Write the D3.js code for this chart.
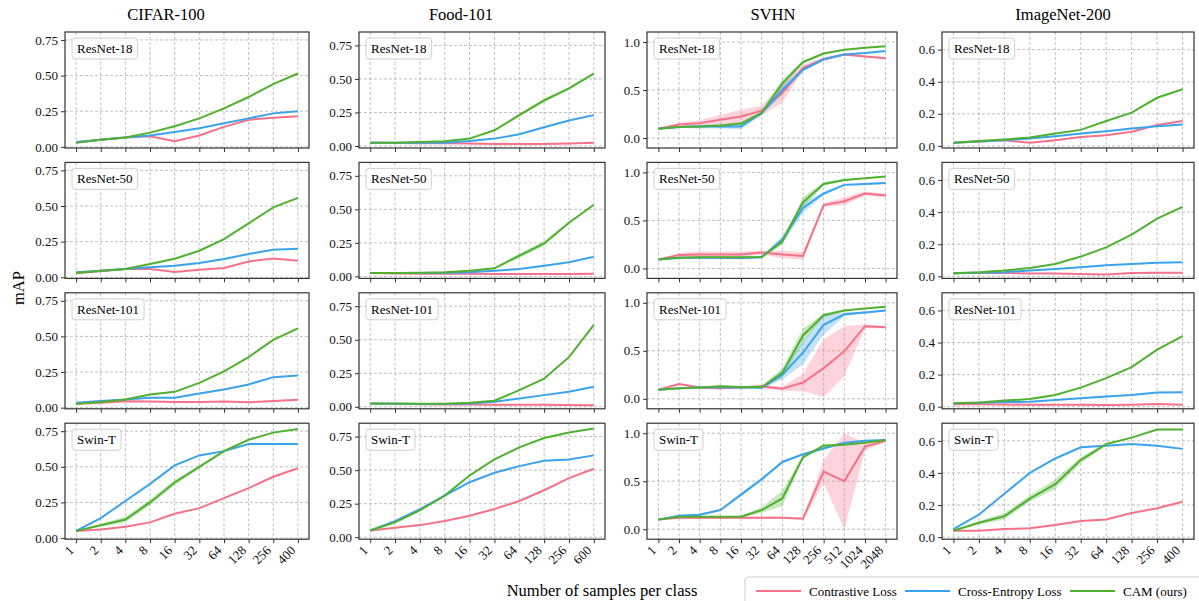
<!DOCTYPE html>
<html>
<head>
<meta charset="utf-8">
<script src="https://cdn.jsdelivr.net/npm/d3@7"></script>
<style>
  body { margin: 0; background: #fff; }
  svg { font-family: "Liberation Serif", "Times New Roman", serif; }
</style>
</head>
<body>
<svg id="chart" width="1199" height="601"></svg>
<script>
var methods = ["Contrastive Loss", "Cross-Entropy Loss", "CAM (ours)"]
var colors = ["#f77189", "#3ba3ec", "#50b131"]
var datasets = ["CIFAR-100", "Food-101", "SVHN", "ImageNet-200"]
var models = ["ResNet-18", "ResNet-50", "ResNet-101", "Swin-T"]

var cifarTicks = ["1", "2", "4", "8", "16", "32", "64", "128", "256", "400"]
var foodTicks = ["1", "2", "4", "8", "16", "32", "64", "128", "256", "600"]
var svhnTicks = ["1", "2", "4", "8", "16", "32", "64", "128", "256", "512", "1024", "2048"]
var imnetTicks = ["1", "2", "4", "8", "16", "32", "64", "128", "256", "400"]

// CIFAR-100
var cifar_r18_con = [0.03, 0.05, 0.065, 0.075, 0.04, 0.08, 0.14, 0.19, 0.205, 0.215]
var cifar_r18_ce = [0.035, 0.05, 0.065, 0.08, 0.105, 0.13, 0.165, 0.2, 0.235, 0.25]
var cifar_r18_cam = [0.028, 0.05, 0.065, 0.1, 0.145, 0.2, 0.27, 0.35, 0.44, 0.515]
var cifar_r50_con = [0.03, 0.042, 0.058, 0.058, 0.037, 0.053, 0.065, 0.111, 0.132, 0.116]
var cifar_r50_ce = [0.035, 0.046, 0.058, 0.07, 0.081, 0.1, 0.128, 0.163, 0.193, 0.2]
var cifar_r50_cam = [0.03, 0.046, 0.058, 0.093, 0.13, 0.186, 0.267, 0.378, 0.49, 0.557]
var cifar_r101_con = [0.028, 0.035, 0.045, 0.044, 0.04, 0.04, 0.043, 0.038, 0.046, 0.055]
var cifar_r101_ce = [0.035, 0.046, 0.058, 0.07, 0.07, 0.1, 0.128, 0.163, 0.214, 0.225]
var cifar_r101_cam = [0.028, 0.04, 0.058, 0.093, 0.111, 0.174, 0.255, 0.355, 0.476, 0.557]
var cifar_swin_con = [0.05, 0.06, 0.08, 0.11, 0.17, 0.21, 0.28, 0.35, 0.43, 0.49]
var cifar_swin_ce = [0.05, 0.14, 0.26, 0.38, 0.51, 0.58, 0.61, 0.66, 0.66, 0.66]
var cifar_swin_cam = [0.05, 0.09, 0.13, 0.25, 0.39, 0.5, 0.61, 0.69, 0.74, 0.765]

// Food-101
var food_r18_con = [0.025, 0.022, 0.02, 0.02, 0.018, 0.015, 0.015, 0.015, 0.018, 0.025]
var food_r18_ce = [0.025, 0.025, 0.025, 0.025, 0.037, 0.055, 0.087, 0.14, 0.19, 0.23]
var food_r18_cam = [0.025, 0.025, 0.03, 0.035, 0.055, 0.117, 0.23, 0.34, 0.43, 0.54]
var food_r50_con = [0.025, 0.022, 0.02, 0.02, 0.02, 0.018, 0.018, 0.018, 0.018, 0.02]
var food_r50_ce = [0.025, 0.025, 0.025, 0.025, 0.03, 0.042, 0.055, 0.08, 0.105, 0.147]
var food_r50_cam = [0.025, 0.025, 0.027, 0.03, 0.042, 0.06, 0.154, 0.246, 0.4, 0.534]
var food_r101_con = [0.022, 0.02, 0.018, 0.018, 0.017, 0.016, 0.015, 0.015, 0.013, 0.012]
var food_r101_ce = [0.025, 0.022, 0.02, 0.02, 0.025, 0.037, 0.062, 0.087, 0.112, 0.149]
var food_r101_cam = [0.025, 0.025, 0.022, 0.022, 0.03, 0.045, 0.124, 0.21, 0.37, 0.61]
var food_swin_con = [0.05, 0.07, 0.09, 0.12, 0.16, 0.21, 0.27, 0.35, 0.44, 0.51]
var food_swin_ce = [0.05, 0.12, 0.21, 0.31, 0.41, 0.48, 0.53, 0.57, 0.58, 0.61]
var food_swin_cam = [0.05, 0.11, 0.2, 0.31, 0.46, 0.58, 0.67, 0.74, 0.78, 0.81]

// SVHN
var svhn_r18_con = [0.097, 0.14, 0.155, 0.19, 0.225, 0.285, 0.47, 0.73, 0.82, 0.87, 0.85, 0.83]
var svhn_r18_ce = [0.097, 0.115, 0.12, 0.12, 0.12, 0.26, 0.5, 0.71, 0.82, 0.87, 0.885, 0.905]
var svhn_r18_cam = [0.097, 0.115, 0.12, 0.13, 0.15, 0.26, 0.57, 0.79, 0.88, 0.92, 0.94, 0.955]
var svhn_r50_con = [0.094, 0.14, 0.145, 0.145, 0.145, 0.165, 0.145, 0.13, 0.66, 0.7, 0.78, 0.76]
var svhn_r50_ce = [0.094, 0.11, 0.112, 0.11, 0.108, 0.115, 0.3, 0.63, 0.78, 0.87, 0.88, 0.89]
var svhn_r50_cam = [0.094, 0.11, 0.115, 0.115, 0.115, 0.12, 0.28, 0.69, 0.88, 0.92, 0.94, 0.958]
var svhn_r101_con = [0.094, 0.153, 0.118, 0.11, 0.118, 0.13, 0.105, 0.17, 0.32, 0.495, 0.756, 0.745]
var svhn_r101_ce = [0.094, 0.11, 0.118, 0.12, 0.118, 0.115, 0.25, 0.48, 0.77, 0.88, 0.9, 0.92]
var svhn_r101_cam = [0.094, 0.11, 0.118, 0.13, 0.122, 0.122, 0.27, 0.66, 0.87, 0.92, 0.94, 0.958]
var svhn_swin_con = [0.1, 0.12, 0.12, 0.12, 0.12, 0.12, 0.12, 0.11, 0.6, 0.5, 0.86, 0.92]
var svhn_swin_ce = [0.1, 0.14, 0.15, 0.2, 0.36, 0.52, 0.7, 0.78, 0.84, 0.9, 0.92, 0.93]
var svhn_swin_cam = [0.1, 0.13, 0.13, 0.13, 0.13, 0.2, 0.32, 0.75, 0.87, 0.88, 0.9, 0.93]

// ImageNet-200
var imnet_r18_con = [0.02, 0.028, 0.035, 0.019, 0.036, 0.056, 0.067, 0.088, 0.13, 0.155]
var imnet_r18_ce = [0.02, 0.028, 0.035, 0.046, 0.06, 0.077, 0.092, 0.109, 0.123, 0.134]
var imnet_r18_cam = [0.02, 0.03, 0.04, 0.052, 0.077, 0.1, 0.155, 0.207, 0.3, 0.353]
var imnet_r50_con = [0.019, 0.02, 0.02, 0.018, 0.017, 0.015, 0.012, 0.02, 0.022, 0.022]
var imnet_r50_ce = [0.019, 0.022, 0.025, 0.036, 0.046, 0.056, 0.069, 0.077, 0.084, 0.088]
var imnet_r50_cam = [0.019, 0.025, 0.036, 0.052, 0.077, 0.123, 0.18, 0.26, 0.36, 0.433]
var imnet_r101_con = [0.015, 0.015, 0.014, 0.012, 0.012, 0.012, 0.01, 0.012, 0.017, 0.012]
var imnet_r101_ce = [0.021, 0.025, 0.029, 0.031, 0.042, 0.052, 0.063, 0.073, 0.088, 0.09]
var imnet_r101_cam = [0.021, 0.027, 0.038, 0.048, 0.073, 0.119, 0.178, 0.247, 0.356, 0.44]
var imnet_swin_con = [0.04, 0.04, 0.05, 0.055, 0.075, 0.1, 0.11, 0.15, 0.18, 0.22]
var imnet_swin_ce = [0.05, 0.14, 0.27, 0.4, 0.49, 0.56, 0.57, 0.58, 0.57, 0.55]
var imnet_swin_cam = [0.04, 0.09, 0.13, 0.24, 0.33, 0.48, 0.58, 0.62, 0.67, 0.67]

// spread (half width of shaded band), only where it is visible
var food_r18_cam_sd = [0, 0, 0, 0, 0, 0.005, 0.01, 0.015, 0.01, 0.005]
var food_r50_cam_sd = [0, 0, 0, 0, 0, 0.005, 0.015, 0.02, 0.01, 0.005]
var cifar_swin_cam_sd = [0, 0.01, 0.02, 0.02, 0.02, 0.01, 0.01, 0, 0, 0]
var imnet_swin_cam_sd = [0, 0.01, 0.02, 0.02, 0.03, 0.02, 0.01, 0, 0, 0]
var svhn_r18_con_sd = [0, 0.02, 0.03, 0.05, 0.07, 0.05, 0.1, 0.03, 0.02, 0.01, 0.01, 0.01]
var svhn_r18_ce_sd = [0, 0.01, 0.02, 0.02, 0.03, 0.02, 0.05, 0.02, 0.01, 0, 0, 0]
var svhn_r18_cam_sd = [0, 0.01, 0.01, 0.01, 0.02, 0.02, 0.04, 0.02, 0.01, 0, 0, 0]
var svhn_r50_con_sd = [0, 0.02, 0.03, 0.03, 0.03, 0.02, 0.04, 0.04, 0.02, 0.04, 0.02, 0.02]
var svhn_r50_ce_sd = [0, 0, 0.01, 0.01, 0.01, 0.01, 0.04, 0.05, 0.02, 0.01, 0.01, 0.01]
var svhn_r50_cam_sd = [0, 0, 0.01, 0.01, 0.01, 0.01, 0.03, 0.05, 0.02, 0.01, 0, 0]
var svhn_r101_con_sd = [0, 0.01, 0.01, 0.01, 0.01, 0.02, 0.02, 0.09, 0.3, 0.26, 0.02, 0.01]
var svhn_r101_ce_sd = [0, 0, 0, 0.01, 0.01, 0.01, 0.05, 0.12, 0.1, 0.02, 0.01, 0.01]
var svhn_r101_cam_sd = [0, 0, 0, 0.01, 0.01, 0.01, 0.05, 0.07, 0.02, 0.01, 0, 0]
var svhn_swin_con_sd = [0, 0.01, 0.01, 0.01, 0.01, 0.01, 0.01, 0.01, 0.12, 0.5, 0.04, 0.01]
var svhn_swin_ce_sd = [0, 0.01, 0.01, 0.01, 0.02, 0.02, 0.01, 0.01, 0.01, 0, 0, 0]
var svhn_swin_cam_sd = [0, 0, 0, 0, 0.01, 0.03, 0.08, 0.02, 0.02, 0.01, 0, 0]

var yTicksCifar = [0, 0.25, 0.5, 0.75]
var yTicksFood = [0, 0.25, 0.5, 0.75]
var yTicksSvhn = [0, 0.5, 1.0]
var yTicksImnet = [0, 0.2, 0.4, 0.6]

// tables built from the arrays above: [dataset][model][method]
var means = [
  [[cifar_r18_con, cifar_r18_ce, cifar_r18_cam], [cifar_r50_con, cifar_r50_ce, cifar_r50_cam],
   [cifar_r101_con, cifar_r101_ce, cifar_r101_cam], [cifar_swin_con, cifar_swin_ce, cifar_swin_cam]],
  [[food_r18_con, food_r18_ce, food_r18_cam], [food_r50_con, food_r50_ce, food_r50_cam],
   [food_r101_con, food_r101_ce, food_r101_cam], [food_swin_con, food_swin_ce, food_swin_cam]],
  [[svhn_r18_con, svhn_r18_ce, svhn_r18_cam], [svhn_r50_con, svhn_r50_ce, svhn_r50_cam],
   [svhn_r101_con, svhn_r101_ce, svhn_r101_cam], [svhn_swin_con, svhn_swin_ce, svhn_swin_cam]],
  [[imnet_r18_con, imnet_r18_ce, imnet_r18_cam], [imnet_r50_con, imnet_r50_ce, imnet_r50_cam],
   [imnet_r101_con, imnet_r101_ce, imnet_r101_cam], [imnet_swin_con, imnet_swin_ce, imnet_swin_cam]]
]
var spreads = [
  [[null, null, null], [null, null, null], [null, null, null], [null, null, cifar_swin_cam_sd]],
  [[null, null, food_r18_cam_sd], [null, null, food_r50_cam_sd], [null, null, null], [null, null, null]],
  [[svhn_r18_con_sd, svhn_r18_ce_sd, svhn_r18_cam_sd], [svhn_r50_con_sd, svhn_r50_ce_sd, svhn_r50_cam_sd],
   [svhn_r101_con_sd, svhn_r101_ce_sd, svhn_r101_cam_sd], [svhn_swin_con_sd, svhn_swin_ce_sd, svhn_swin_cam_sd]],
  [[null, null, null], [null, null, null], [null, null, null], [null, null, imnet_swin_cam_sd]]
]
var xTickSets = [cifarTicks, foodTicks, svhnTicks, imnetTicks]
var yTickSets = [yTicksCifar, yTicksFood, yTicksSvhn, yTicksImnet]
var yDomains = [[-0.008, 0.806], [-0.015, 0.85], [-0.104, 1.104], [-0.013, 0.71]]
var yFormats = [".2f", ".2f", ".1f", ".1f"]

var colLeft = [65, 359, 647, 942]
var colRight = [309, 605, 897, 1194]
var titleX = [166, 461, 773, 1063]
var rowTop = 32, rowStep = 130.4, panelH = 116

var svg = d3.select("#chart")

function drawPanel(c, r) {
  var n = xTickSets[c].length
  var pad = (n - 1) * 0.05
  var x = d3.scaleLinear().domain([-pad, n - 1 + pad]).range([colLeft[c], colRight[c]])
  var pTop = rowTop + r * rowStep
  var pBottom = pTop + panelH
  var y = d3.scaleLinear().domain(yDomains[c]).range([pBottom, pTop])
  var g = svg.append("g")

  // grid
  g.selectAll("line.vg").data(d3.range(n)).enter().append("line")
    .attr("x1", function(d) { return x(d) }).attr("x2", function(d) { return x(d) })
    .attr("y1", pTop).attr("y2", pBottom)
    .attr("stroke", "#b0b0b0").attr("stroke-width", 0.8).attr("stroke-dasharray", "3,2")
  g.selectAll("line.hg").data(yTickSets[c]).enter().append("line")
    .attr("x1", colLeft[c]).attr("x2", colRight[c])
    .attr("y1", function(d) { return y(d) }).attr("y2", function(d) { return y(d) })
    .attr("stroke", "#b0b0b0").attr("stroke-width", 0.8).attr("stroke-dasharray", "3,2")

  // bands
  for (var m = 0; m < 3; m++) {
    var sd = spreads[c][r][m]
    if (!sd) continue
    var area = d3.area()
      .x(function(d, i) { return x(i) })
      .y0(function(d, i) { return y(d - sd[i]) })
      .y1(function(d, i) { return y(d + sd[i]) })
    g.append("path").datum(means[c][r][m])
      .attr("d", area)
      .attr("fill", colors[m]).attr("fill-opacity", 0.3)
  }
  // lines
  var line = d3.line().x(function(d, i) { return x(i) }).y(function(d) { return y(d) })
  for (var m = 0; m < 3; m++) {
    g.append("path").datum(means[c][r][m])
      .attr("d", line)
      .attr("fill", "none")
      .attr("stroke", colors[m])
      .attr("stroke-width", 2)
  }

  // frame
  g.append("rect")
    .attr("x", colLeft[c]).attr("y", pTop)
    .attr("width", colRight[c] - colLeft[c]).attr("height", panelH)
    .attr("fill", "none").attr("stroke", "#333").attr("stroke-width", 1.2)

  // y axis
  var yAxis = d3.axisLeft(y).tickValues(yTickSets[c]).tickFormat(d3.format(yFormats[c])).tickSize(4).tickPadding(3)
  var ya = g.append("g").attr("transform", "translate(" + colLeft[c] + ",0)").call(yAxis)
  ya.select(".domain").remove()
  ya.selectAll("text").attr("font-size", 13).attr("fill", "#111").attr("font-family", "Liberation Serif")
  ya.selectAll("line").attr("stroke", "#333")

  // x axis
  var xAxis = d3.axisBottom(x).tickValues(d3.range(n)).tickSize(4)
    .tickFormat(function(d) { return r == 3 ? xTickSets[c][d] : "" })
  var xa = g.append("g").attr("transform", "translate(0," + pBottom + ")").call(xAxis)
  xa.select(".domain").remove()
  xa.selectAll("line").attr("stroke", "#333")
  xa.selectAll("text")
    .attr("font-size", 13).attr("fill", "#111").attr("font-family", "Liberation Serif")
    .attr("text-anchor", "end")
    .attr("y", 0).attr("dy", 0)
    .attr("transform", "translate(-2,12) rotate(-45)")

  // model label box
  var lab = g.append("g")
  var t = lab.append("text")
    .attr("x", colLeft[c] + 12).attr("y", pTop + 21)
    .attr("font-size", 13).text(models[r])
  var tw = t.node().getComputedTextLength()
  lab.insert("rect", "text")
    .attr("x", colLeft[c] + 7).attr("y", pTop + 6)
    .attr("width", tw + 10).attr("height", 21)
    .attr("rx", 3)
    .attr("fill", "#fff").attr("fill-opacity", 0.8)
    .attr("stroke", "#d0d0d0")
}

for (var c = 0; c < 4; c++) {
  svg.append("text")
    .attr("x", titleX[c])
    .attr("y", 20)
    .attr("text-anchor", "middle")
    .attr("font-size", 16.5)
    .text(datasets[c])
  for (var r = 0; r < 4; r++) drawPanel(c, r)
}

// axis titles
svg.append("text")
  .attr("transform", "translate(24,288) rotate(-90)")
  .attr("text-anchor", "middle")
  .attr("font-size", 16.5)
  .text("mAP")
svg.append("text")
  .attr("x", 602).attr("y", 596)
  .attr("text-anchor", "middle")
  .attr("font-size", 16.5)
  .text("Number of samples per class")

// legend
var leg = svg.append("g")
leg.append("rect")
  .attr("x", 745).attr("y", 577).attr("width", 470).attr("height", 40)
  .attr("rx", 3).attr("fill", "#fff").attr("stroke", "#d0d0d0")
var legX = [756, 905, 1070]
methods.forEach(function(name, i) {
  leg.append("line")
    .attr("x1", legX[i]).attr("x2", legX[i] + 45)
    .attr("y1", 591).attr("y2", 591)
    .attr("stroke", colors[i]).attr("stroke-width", 2)
  leg.append("text")
    .attr("x", legX[i] + 53).attr("y", 595.5)
    .attr("font-size", 13)
    .text(name)
})
</script>
</body>
</html>
